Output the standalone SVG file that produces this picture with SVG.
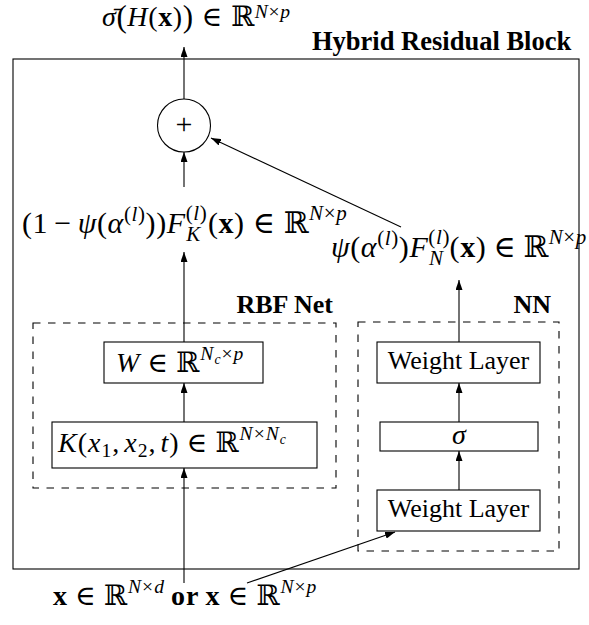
<svg xmlns="http://www.w3.org/2000/svg" width="589" height="625" viewBox="0 0 589 625">
  <style>
    .ln { fill: none; stroke: #000; stroke-width: 1.1; }
    .dash { fill: none; stroke: #000; stroke-width: 1.1; stroke-dasharray: 7.5 7.5; }
    .box { fill: #fff; stroke: #000; stroke-width: 1.1; }
    .arr { fill: none; stroke: #000; stroke-width: 1.1; marker-end: url(#tip); }
    .t { font-family: "Liberation Serif", "DejaVu Serif", serif; font-size: 26px; fill: #000; }
    .bt { font-family: "Liberation Serif", "DejaVu Serif", serif; font-size: 26px; font-weight: bold; fill: #000; }
    .m { font-family: "Liberation Serif", "DejaVu Serif", serif; font-size: 30px; fill: #000; letter-spacing: 0.6px; }
    .mb { font-size: 28px; letter-spacing: 1px; }
    .i { font-style: italic; }
    .b { font-weight: bold; }
    .s { font-size: 0.7em; }
  </style>
  <defs>
    <marker id="tip" viewBox="0 0 10 7" refX="10" refY="3.5" markerWidth="10" markerHeight="7" markerUnits="userSpaceOnUse" orient="auto">
      <path d="M0,0 L10,3.5 L0,7 z" fill="#000"/>
    </marker>
  </defs>

  <!-- outer block frame and its title -->
  <g id="block">
    <rect class="ln" x="13" y="59" width="566" height="510"/>
    <text class="bt" x="312" y="50" style="font-size:26.5px">Hybrid Residual Block</text>
  </g>

  <!-- dashed sub-network frames -->
  <g id="rbf-net">
    <rect class="dash" x="33" y="323" width="303" height="165"/>
    <text class="bt" x="333" y="313" text-anchor="end">RBF Net</text>
  </g>
  <g id="nn">
    <rect class="dash" x="358" y="322" width="201" height="229"/>
    <text class="bt" x="551" y="313" text-anchor="end">NN</text>
  </g>

  <!-- connectors -->
  <g id="connectors">
    <line class="arr" x1="184" y1="99" x2="184" y2="47"/>
    <line class="arr" x1="184" y1="187" x2="184" y2="152"/>
    <line class="arr" x1="401" y1="227" x2="211" y2="138"/>
    <line class="arr" x1="184" y1="342" x2="184" y2="252"/>
    <line class="arr" x1="184" y1="422" x2="184" y2="383"/>
    <line class="arr" x1="184" y1="583" x2="184" y2="468"/>
    <line class="arr" x1="459" y1="342" x2="459" y2="280"/>
    <line class="arr" x1="459" y1="422" x2="459" y2="383"/>
    <line class="arr" x1="459" y1="490" x2="459" y2="451"/>
    <line class="arr" x1="247" y1="583" x2="395" y2="532"/>
  </g>

  <!-- output expression -->
  <g id="output">
    <text class="m" x="102" y="26" style="font-size:28px"><tspan class="i">σ̄</tspan><tspan style="font-size:31px" dy="1">(</tspan><tspan class="i" dy="-1">H</tspan>(<tspan class="b">x</tspan>)<tspan style="font-size:31px" dy="1">)</tspan><tspan dx="8" dy="-1">∈</tspan><tspan dx="8">ℝ</tspan><tspan class="s" dy="-8"><tspan class="i">N</tspan>×<tspan class="i">p</tspan></tspan></text>
  </g>

  <!-- summation node -->
  <g id="sum">
    <circle class="ln" cx="184" cy="125.5" r="26.5"/>
    <text class="t" x="184" y="134" text-anchor="middle" style="font-size:30px">+</text>
  </g>

  <!-- weighted RBF branch output -->
  <g id="rbf-out">
    <text class="m" x="22" y="233">(1<tspan dx="6">−</tspan><tspan dx="6" class="i">ψ</tspan>(<tspan class="i">α</tspan><tspan class="s" dy="-12">(<tspan class="i">l</tspan>)</tspan><tspan dy="12">))</tspan><tspan class="i">F</tspan><tspan class="s" dy="-13">(<tspan class="i">l</tspan>)</tspan><tspan class="s i" dx="-21" dy="21">K</tspan><tspan dx="7" dy="-8">(</tspan><tspan class="b">x</tspan>)<tspan dx="8">∈</tspan><tspan dx="8">ℝ</tspan><tspan class="s" dy="-13"><tspan class="i">N</tspan>×<tspan class="i">p</tspan></tspan></text>
  </g>

  <!-- weighted NN branch output -->
  <g id="nn-out">
    <text class="m" x="331" y="257"><tspan class="i">ψ</tspan>(<tspan class="i">α</tspan><tspan class="s" dy="-12">(<tspan class="i">l</tspan>)</tspan><tspan dy="12">)</tspan><tspan class="i">F</tspan><tspan class="s" dy="-13">(<tspan class="i">l</tspan>)</tspan><tspan class="s i" dx="-21" dy="21">N</tspan><tspan dx="6" dy="-8">(</tspan><tspan class="b">x</tspan>)<tspan dx="7">∈</tspan><tspan dx="7">ℝ</tspan><tspan class="s" dy="-13"><tspan class="i">N</tspan>×<tspan class="i">p</tspan></tspan></text>
  </g>

  <!-- RBF layers -->
  <g id="w-layer">
    <rect class="box" x="104" y="342" width="159" height="41"/>
    <text class="m mb" x="116" y="372"><tspan class="i">W</tspan><tspan dx="7">∈</tspan><tspan dx="7">ℝ</tspan><tspan class="s" dy="-12"><tspan class="i">N</tspan><tspan class="s i" dy="4">c</tspan><tspan dy="-4">×</tspan><tspan class="i">p</tspan></tspan></text>
  </g>
  <g id="kernel">
    <rect class="box" x="52" y="422" width="265" height="46"/>
    <text class="m mb" x="58" y="452"><tspan class="i">K</tspan>(<tspan class="i">x</tspan><tspan class="s" dy="5">1</tspan><tspan dy="-5">,</tspan><tspan dx="4" class="i">x</tspan><tspan class="s" dy="5">2</tspan><tspan dy="-5">,</tspan><tspan dx="4" class="i">t</tspan>)<tspan dx="7">∈</tspan><tspan dx="7">ℝ</tspan><tspan class="s" dy="-12"><tspan class="i">N</tspan>×<tspan class="i">N</tspan><tspan class="s i" dy="4">c</tspan></tspan></text>
  </g>

  <!-- NN layers -->
  <g id="weight-top">
    <rect class="box" x="377" y="342" width="163" height="41"/>
    <text class="t" x="458.5" y="369" text-anchor="middle">Weight Layer</text>
  </g>
  <g id="activation">
    <rect class="box" x="380" y="422" width="158" height="29"/>
    <text class="t i" x="459" y="444" text-anchor="middle" style="font-size:28px">σ</text>
  </g>
  <g id="weight-bottom">
    <rect class="box" x="377" y="490" width="163" height="41"/>
    <text class="t" x="458.5" y="517" text-anchor="middle">Weight Layer</text>
  </g>

  <!-- input expression -->
  <g id="input">
    <text class="m mb" x="53" y="605"><tspan class="b">x</tspan><tspan dx="7">∈</tspan><tspan dx="7">ℝ</tspan><tspan class="s" dy="-12"><tspan class="i">N</tspan>×<tspan class="i">d</tspan></tspan><tspan class="b" dx="6" dy="12">or</tspan><tspan class="b" dx="6">x</tspan><tspan dx="7">∈</tspan><tspan dx="7">ℝ</tspan><tspan class="s" dy="-12"><tspan class="i">N</tspan>×<tspan class="i">p</tspan></tspan></text>
  </g>
</svg>
